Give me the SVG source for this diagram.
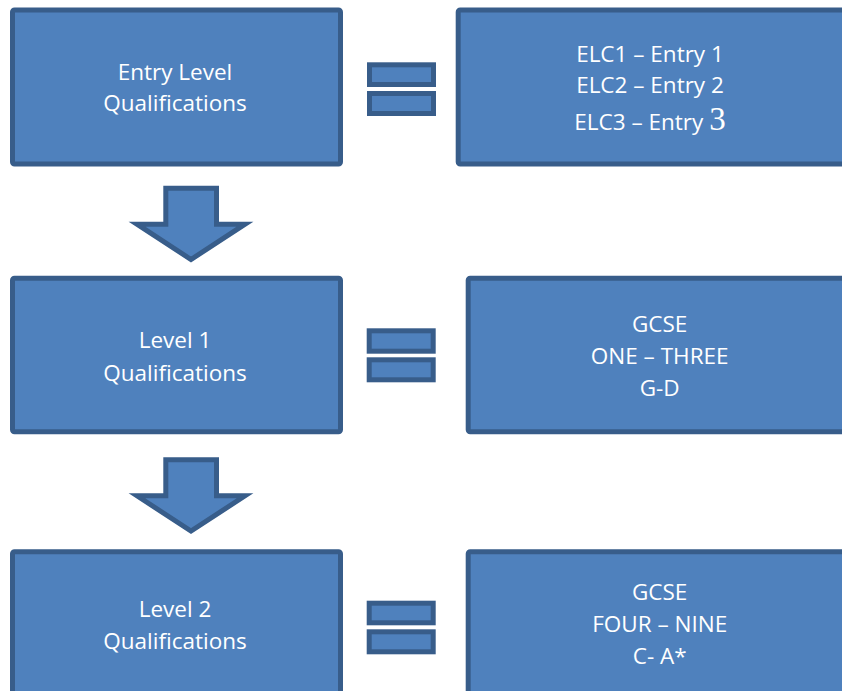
<svg xmlns="http://www.w3.org/2000/svg" width="842" height="691" viewBox="0 0 842 691">
  <style>
    .box { fill: #4f81bd; stroke: #385d8a; stroke-width: 5; }
    .bar { fill: #4f81bd; stroke: #385d8a; stroke-width: 5; }
    .arrow { fill: #4f81bd; stroke: #385d8a; stroke-width: 5; stroke-linejoin: miter; }
    .lbl { font-family: "Open Sans", "Noto Sans", sans-serif; font-size: 22.5px; fill: #ffffff; text-anchor: middle; }
    .big3 { font-family: "Liberation Serif", "DejaVu Serif", serif; font-size: 33px; }
  </style>
  <rect width="842" height="691" fill="#ffffff"/>

  <g id="connectors">
    <polygon class="arrow" points="165.8,188.2 216.5,188.2 216.5,224.2 245,224.2 191,259.5 137,224.2 165.8,224.2"/>
    <polygon class="arrow" points="165.8,459.8 216.5,459.8 216.5,495.8 245,495.8 191,531.1 137,495.8 165.8,495.8"/>
  </g>

  <g id="entry-level">
    <rect class="box" x="12.5" y="10" width="328" height="154" rx="2"/>
    <text class="lbl" x="175" y="80">Entry Level</text>
    <text class="lbl" x="175" y="111">Qualifications</text>
  </g>
  <g id="equals-1">
    <rect class="bar" x="369.5" y="64.8" width="64" height="19.7"/>
    <rect class="bar" x="369.5" y="93.5" width="64" height="20"/>
  </g>
  <g id="entry-grades">
    <rect class="box" x="458.2" y="10" width="400" height="154" rx="2"/>
    <text class="lbl" x="650" y="62.3">ELC1 – Entry 1</text>
    <text class="lbl" x="650" y="93.3">ELC2 – Entry 2</text>
    <text class="lbl" x="650" y="130">ELC3 – Entry <tspan class="big3">3</tspan></text>
  </g>

  <g id="level-1">
    <rect class="box" x="12.5" y="278.2" width="328" height="153.6" rx="2"/>
    <text class="lbl" x="175" y="348.3">Level 1</text>
    <text class="lbl" x="175" y="380.7">Qualifications</text>
  </g>
  <g id="equals-2">
    <rect class="bar" x="369.2" y="330.8" width="64" height="20.4"/>
    <rect class="bar" x="369.2" y="359.8" width="64" height="20"/>
  </g>
  <g id="level-1-grades">
    <rect class="box" x="468.2" y="278.2" width="400" height="153.6" rx="2"/>
    <text class="lbl" x="659.7" y="332.3">GCSE</text>
    <text class="lbl" x="659.7" y="364">ONE – THREE</text>
    <text class="lbl" x="659.7" y="396">G-D</text>
  </g>

  <g id="level-2">
    <rect class="box" x="12.5" y="551.8" width="328" height="200" rx="2"/>
    <text class="lbl" x="175" y="616.7">Level 2</text>
    <text class="lbl" x="175" y="649.3">Qualifications</text>
  </g>
  <g id="equals-3">
    <rect class="bar" x="369.2" y="603.2" width="64" height="19.6"/>
    <rect class="bar" x="369.2" y="631.8" width="64" height="20"/>
  </g>
  <g id="level-2-grades">
    <rect class="box" x="468.2" y="551.8" width="400" height="200" rx="2"/>
    <text class="lbl" x="659.7" y="600">GCSE</text>
    <text class="lbl" x="659.7" y="632.3">FOUR – NINE</text>
    <text class="lbl" x="659.7" y="664.3">C- A*</text>
  </g>
</svg>
